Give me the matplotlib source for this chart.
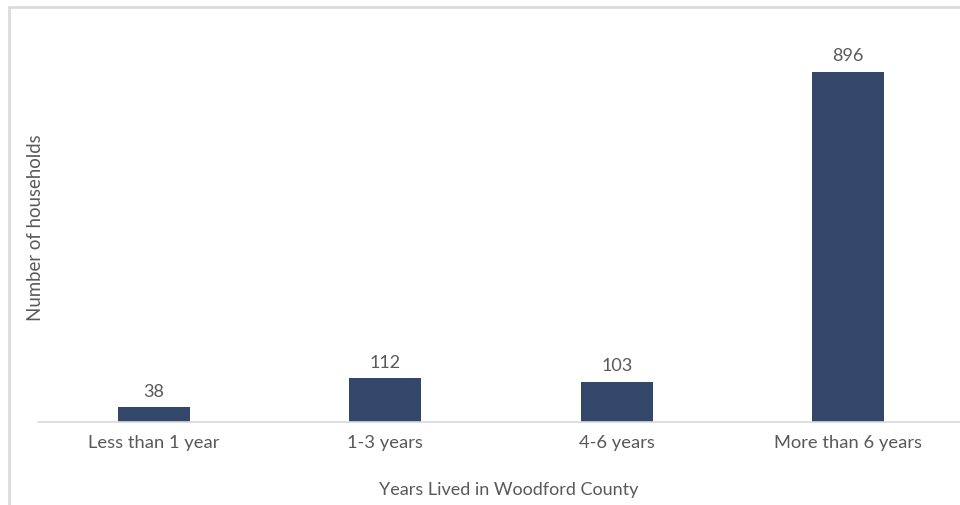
#!/usr/bin/env python3

import matplotlib.pyplot as plt
from matplotlib.patches import Rectangle

categories = ['Less than 1 year', '1-3 years', '4-6 years', 'More than 6 years']
households = [38, 112, 103, 896]

if __name__ == '__main__':
    plt.rcParams['font.family'] = ['Lato', 'DejaVu Sans']
    textColor = '#595959'

    fig = plt.figure(figsize=(9.6, 5.06), dpi=100)
    # light frame on top and left, like the cropped screenshot
    fig.add_artist(Rectangle((9 / 960, -0.1), 2, 1.1 - 8 / 506, transform=fig.transFigure,
                             fill=False, edgecolor='#dcdcdc', linewidth=2))

    ax = fig.add_axes([38 / 960, 1 - 423 / 506, 926 / 960, 391 / 506])
    x = range(len(categories))
    bars = ax.bar(x, households, width=0.31, color='#324769')
    ax.bar_label(bars, padding=6, fontsize=13, color=textColor)

    ax.set_xlim(-0.5, len(categories) - 0.5)
    ax.set_ylim(0, 1000)
    ax.set_xticks(list(x))
    ax.set_xticklabels(categories, fontsize=13.2, color=textColor)
    ax.tick_params(axis='x', length=0, pad=9)
    ax.set_yticks([])
    for side in ['top', 'right', 'left']:
        ax.spines[side].set_visible(False)
    ax.spines['bottom'].set_color('#d9d9d9')
    ax.spines['bottom'].set_linewidth(1.2)

    fig.text(509 / 960, 1 - 490 / 506, 'Years Lived in Woodford County', ha='center', va='center',
             fontsize=13, color=textColor)
    fig.text(36 / 960, 1 - 228 / 506, 'Number of households', ha='center', va='center',
             rotation=90, fontsize=13.4, color=textColor)

    fig.savefig('out.png', dpi=100)
